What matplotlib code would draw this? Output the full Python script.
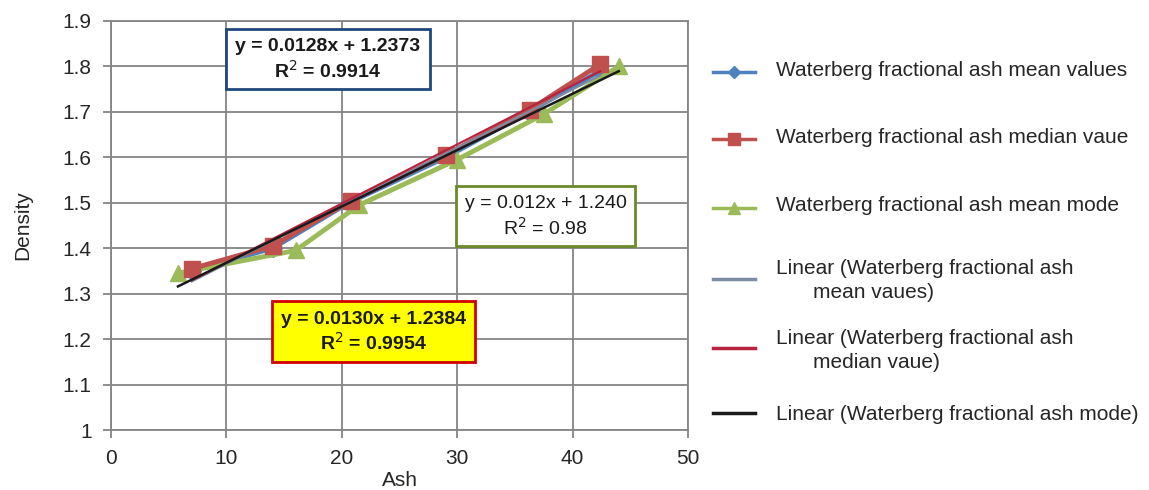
import matplotlib
matplotlib.use("Agg")
import matplotlib.pyplot as plt
from matplotlib.patches import Rectangle
import numpy as np

plt.rcParams['font.family'] = ['Liberation Sans', 'DejaVu Sans']

# Data
mean_ash = [7.0, 14.0, 20.6, 29.0, 36.2, 42.4]
mean_density = [1.35, 1.40, 1.50, 1.60, 1.70, 1.79]
median_ash = [7.0, 14.0, 20.8, 29.0, 36.3, 42.4]
median_density = [1.355, 1.405, 1.505, 1.605, 1.705, 1.805]
mode_ash = [5.8, 16.0, 21.5, 30.0, 37.5, 44.0]
mode_density = [1.345, 1.395, 1.495, 1.595, 1.695, 1.80]

# Trendline coefficients (slope, intercept)
mean_fit = (0.0128, 1.2373)
median_fit = (0.0130, 1.2384)
mode_fit = (0.0124, 1.244)

eq_texts = [
    "y = 0.0128x + 1.2373\nR$^{2}$ = 0.9914",
    "y = 0.012x + 1.240\nR$^{2}$ = 0.98",
    "y = 0.0130x + 1.2384\nR$^{2}$ = 0.9954",
]

labels = [
    "Waterberg fractional ash mean values",
    "Waterberg fractional ash median vaue",
    "Waterberg fractional ash mean mode",
    ["Linear (Waterberg fractional ash", "mean vaues)"],
    ["Linear (Waterberg fractional ash", "median vaue)"],
    "Linear (Waterberg fractional ash mode)",
]
x_ticks = [0, 10, 20, 30, 40, 50]
y_ticks = [1.0, 1.1, 1.2, 1.3, 1.4, 1.5, 1.6, 1.7, 1.8, 1.9]
y_ticklabels = ["1", "1.1", "1.2", "1.3", "1.4", "1.5", "1.6", "1.7", "1.8", "1.9"]

c_mean = "#4F81BD"
c_median = "#C0504D"
c_mode = "#9BBB59"
c_tmean = "#7D8CA3"
c_tmedian = "#B8223F"
c_tmode = "#1A1A1A"
grid_c = "#858585"

W, H = 1149, 490
fig = plt.figure(figsize=(W / 100, H / 100), dpi=100)
ax = fig.add_axes([111 / W, 1 - 430 / H, (688 - 111) / W, (430 - 21) / H])

ax.plot(mean_ash, mean_density, color=c_mean, lw=3.5, marker="D", ms=9, zorder=3)
ax.plot(mode_ash, mode_density, color=c_mode, lw=3.5, marker="^", ms=12, zorder=3)
ax.plot(median_ash, median_density, color=c_median, lw=3.5, marker="s", ms=11, zorder=4)

def trend(xs, fit, color, lw, z):
    xr = np.array([min(xs), max(xs)])
    ax.plot(xr, fit[0] * xr + fit[1], color=color, lw=lw, zorder=z)

trend(mean_ash, mean_fit, c_tmean, 1.5, 5)
trend(median_ash, median_fit, c_tmedian, 1.5, 5)
trend(mode_ash, mode_fit, c_tmode, 1.8, 6)

ax.set_xlim(0, 50)
ax.set_ylim(1.0, 1.9)
ax.set_xticks(x_ticks)
ax.set_yticks(y_ticks)
ax.set_yticklabels(y_ticklabels)
ax.grid(True, color=grid_c, lw=1.3)
ax.set_axisbelow(True)
for s in ax.spines.values():
    s.set_color(grid_c)
    s.set_linewidth(1.3)
ax.tick_params(direction="out", length=6, width=1.3, color=grid_c, labelsize=15,
               labelcolor="#262626")
ax.tick_params(axis="y", pad=8)
ax.tick_params(axis="x", pad=8)
ax.set_xlabel("Ash", fontsize=15, labelpad=2, color="#262626")
ax.set_ylabel("Density", fontsize=15, labelpad=22, color="#262626")

# Overlay in pixel coordinates for boxes and legend
lax = fig.add_axes([0, 0, 1, 1])
lax.set_xlim(0, W)
lax.set_ylim(H, 0)
lax.axis("off")

boxes = [
    # (x0, y0, x1, y1, face, edge, bold)
    (226, 29, 430, 89, "white", "#1F497D", True),
    (456, 186, 635, 246, "white", "#6B8A2A", False),
    (272, 301, 475, 362, "#FFFF00", "#D00000", True),
]
for (x0, y0, x1, y1, fc, ec, bold), txt in zip(boxes, eq_texts):
    lax.add_patch(Rectangle((x0, y0), x1 - x0, y1 - y0, fc=fc, ec=ec, lw=2.0, zorder=2))
    lax.text((x0 + x1) / 2, (y0 + y1) / 2 + 1, txt, ha="center", va="center",
             fontsize=14, fontweight="bold" if bold else "normal",
             linespacing=1.25, color="#1A1A1A", zorder=3)

# Manual legend
handle_y = [72.5, 139, 208, 279, 348, 413]
text_y = [[71], [137], [205], [268, 292], [338, 362], [414]]
styles = [
    dict(color=c_mean, lw=2.5, marker="D", ms=6),
    dict(color=c_median, lw=2.5, marker="s", ms=9),
    dict(color=c_mode, lw=2.5, marker="^", ms=9),
    dict(color=c_tmean, lw=2.5),
    dict(color=c_tmedian, lw=2.5),
    dict(color=c_tmode, lw=2.5),
]
for hy, ty, st, lab in zip(handle_y, text_y, styles, labels):
    lax.plot([713, 755], [hy, hy], color=st["color"], lw=st["lw"])
    if "marker" in st:
        lax.plot([734], [hy], color=st["color"], marker=st["marker"], ms=st["ms"], lw=0)
    lines = lab if isinstance(lab, list) else [lab]
    for i, (yy, ln) in enumerate(zip(ty, lines)):
        lax.text(776 if i == 0 else 813, yy, ln, ha="left", va="center",
                 fontsize=15, color="#262626")

fig.savefig("out.png", dpi=100)
